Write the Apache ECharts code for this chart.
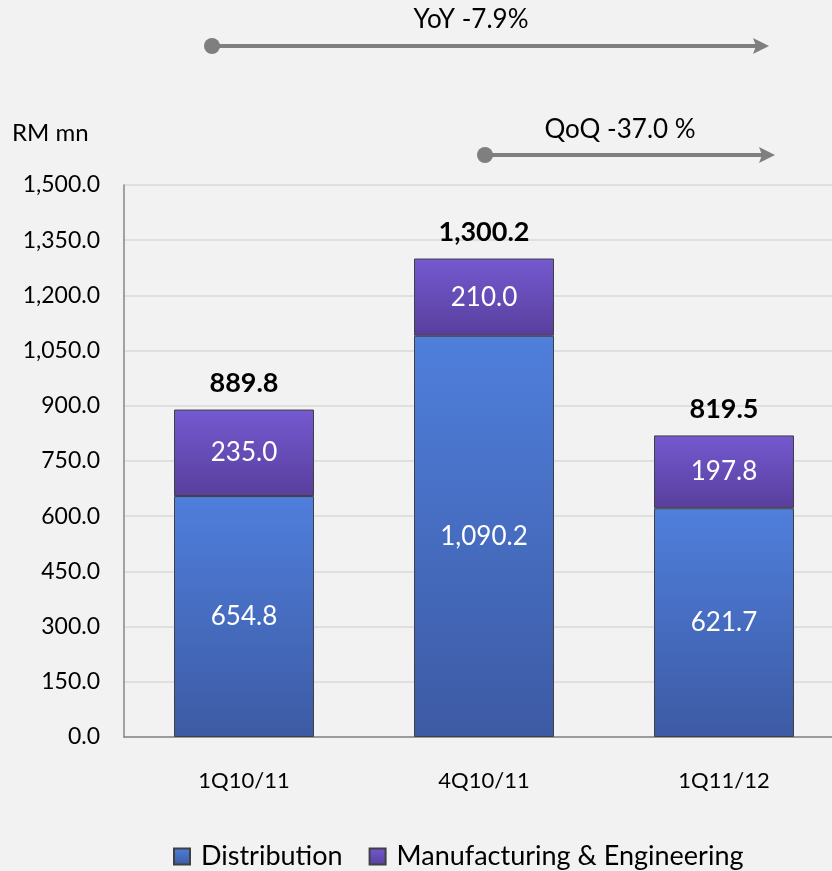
<!DOCTYPE html>
<html>
<head>
<meta charset="utf-8">
<script src="https://cdn.jsdelivr.net/npm/echarts@6/dist/echarts.min.js"></script>
<style>
  html, body { margin: 0; padding: 0; background: #f2f2f2; overflow: hidden; }
  /* the plot runs past the right edge of the window, so the canvas is a bit wider */
  #chart { width: 844px; height: 871px; }
</style>
</head>
<body>
<div id="chart"></div>
<script>
// Revenue by segment, RM mn
const categories = ['1Q10/11', '4Q10/11', '1Q11/12'];
const distribution = [654.8, 1090.2, 621.7];
const manufacturing = [235.0, 210.0, 197.8];
const totals = [889.8, 1300.2, 819.5];
const yTicks = { min: 0, max: 1500, interval: 150 };

const FONT = 'Lato, "Open Sans", sans-serif';
const fmt = v => Number(v).toLocaleString('en-US', { minimumFractionDigits: 1, maximumFractionDigits: 1 });

function vgrad(top, bottom) {
  return new echarts.graphic.LinearGradient(0, 0, 0, 1, [
    { offset: 0, color: top },
    { offset: 1, color: bottom }
  ]);
}

const chart = echarts.init(document.getElementById('chart'), null, { renderer: 'canvas' });

const arrowColor = '#7f7f7f';
function arrow(x1, x2, y) {
  return [
    { type: 'line', shape: { x1: x1, y1: y, x2: x2 - 12, y2: y }, style: { stroke: arrowColor, lineWidth: 4 } },
    { type: 'circle', shape: { cx: x1, cy: y, r: 8 }, style: { fill: arrowColor } },
    { type: 'polygon', shape: { points: [[x2 - 16, y - 8], [x2, y], [x2 - 16, y + 8], [x2 - 13, y]] }, style: { fill: arrowColor } }
  ];
}

const option = {
  backgroundColor: '#f2f2f2',
  animation: false,
  grid: { left: 124, right: 0, top: 185, bottom: 134, containLabel: false },
  legend: {
    data: ['Distribution', 'Manufacturing & Engineering'],
    top: 838,
    left: 168,
    itemWidth: 16,
    itemHeight: 16,
    itemGap: 26,
    icon: 'rect',
    textStyle: { fontFamily: FONT, fontSize: 27, color: '#000', padding: [0, 0, 0, 6] }
  },
  xAxis: {
    type: 'category',
    data: categories,
    axisTick: { show: false },
    axisLine: { lineStyle: { color: '#868686', width: 1.5 } },
    axisLabel: { fontFamily: FONT, fontSize: 22, color: '#000', margin: 33 }
  },
  yAxis: {
    type: 'value',
    min: yTicks.min,
    max: yTicks.max,
    interval: yTicks.interval,
    axisLine: { show: true, lineStyle: { color: '#868686', width: 1.5 } },
    axisTick: { show: false },
    splitLine: { lineStyle: { color: '#d9d9d9', width: 1.5 } },
    axisLabel: { fontFamily: FONT, fontSize: 23, color: '#000', margin: 24, formatter: fmt }
  },
  series: [
    {
      name: 'Distribution',
      type: 'bar',
      stack: 'rev',
      data: distribution,
      barWidth: 140,
      itemStyle: { color: vgrad('#4f7fdc', '#3d5aa4'), borderColor: '#404040', borderWidth: 1 },
      label: { show: true, position: 'inside', color: '#fff', fontFamily: FONT, fontSize: 26, formatter: p => fmt(p.value) }
    },
    {
      name: 'Manufacturing & Engineering',
      type: 'bar',
      stack: 'rev',
      data: manufacturing,
      barWidth: 140,
      itemStyle: { color: vgrad('#7459d0', '#583f9c'), borderColor: '#404040', borderWidth: 1 },
      label: { show: true, position: 'inside', color: '#fff', fontFamily: FONT, fontSize: 26, formatter: p => fmt(p.value) }
    },
    {
      name: 'Total',
      type: 'line',
      data: totals,
      symbol: 'circle',
      symbolSize: 1,
      silent: true,
      itemStyle: { color: 'rgba(0,0,0,0)' },
      lineStyle: { opacity: 0 },
      label: { show: true, position: 'top', distance: 12, color: '#000', fontFamily: FONT, fontSize: 27, fontWeight: 'bold', formatter: p => fmt(p.value) }
    }
  ],
  graphic: [
    { type: 'text', left: 12, top: 121, style: { text: 'RM mn', fontFamily: FONT, fontSize: 24, fill: '#000' } },
    { type: 'text', x: 471, y: 20, style: { text: 'YoY -7.9%', fontFamily: FONT, fontSize: 26, fill: '#000', align: 'center', verticalAlign: 'middle' } },
    { type: 'text', x: 620, y: 130, style: { text: 'QoQ -37.0 %', fontFamily: FONT, fontSize: 26, fill: '#000', align: 'center', verticalAlign: 'middle' } },
    ...arrow(212, 769, 46),
    ...arrow(485, 775, 155)
  ]
};

chart.setOption(option);
</script>
</body>
</html>
